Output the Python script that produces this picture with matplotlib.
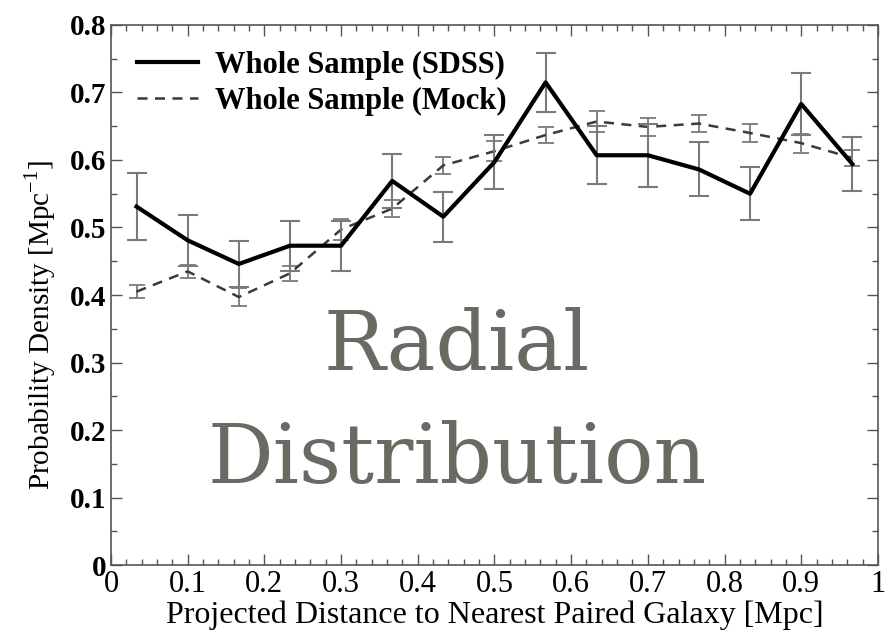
import matplotlib
matplotlib.use("Agg")
import matplotlib.pyplot as plt
from matplotlib.ticker import MultipleLocator
import numpy as np

x = [0.0333, 0.1, 0.1667, 0.2333, 0.3, 0.3667, 0.4333, 0.5, 0.5667, 0.6333, 0.7, 0.7667, 0.8333, 0.9, 0.9667]
sdss = [0.531, 0.481, 0.446, 0.473, 0.473, 0.569, 0.516, 0.597, 0.715, 0.607, 0.607, 0.586, 0.550, 0.683, 0.594]
sdss_err = [0.050, 0.038, 0.034, 0.037, 0.037, 0.040, 0.037, 0.040, 0.044, 0.043, 0.047, 0.040, 0.039, 0.046, 0.040]
mock = [0.405, 0.435, 0.397, 0.432, 0.497, 0.528, 0.592, 0.613, 0.637, 0.657, 0.649, 0.654, 0.640, 0.625, 0.603]
mock_err = [0.010, 0.010, 0.013, 0.011, 0.015, 0.013, 0.013, 0.015, 0.012, 0.015, 0.013, 0.012, 0.013, 0.014, 0.012]

serif = ["Liberation Serif", "DejaVu Serif"]
plt.rcParams["font.family"] = serif

fig = plt.figure(figsize=(8.85, 6.34), dpi=100)
ax = fig.add_axes([0.1254, 0.1088, 0.8666, 0.8518])

ax.errorbar(x, sdss, yerr=sdss_err, color="black", lw=3, ecolor="#7a7a7a",
            elinewidth=1.5, capsize=7, capthick=1.5, label="Whole Sample (SDSS)", zorder=3)
ax.errorbar(x, mock, yerr=mock_err, color="#3a3a3a", lw=1.8, ls=(0, (4, 3)), ecolor="#7a7a7a",
            elinewidth=1.3, capsize=6, capthick=1.3, label="Whole Sample (Mock)", zorder=2)

ax.set_xlim(0, 1)
ax.set_ylim(0, 0.8)
ax.xaxis.set_major_locator(MultipleLocator(0.1))
ax.xaxis.set_minor_locator(MultipleLocator(0.02))
ax.yaxis.set_major_locator(MultipleLocator(0.1))
ax.yaxis.set_minor_locator(MultipleLocator(0.05))
ax.tick_params(which="both", direction="in", top=True, right=True, colors="#555555", labelcolor="black")
ax.tick_params(which="major", length=8, width=1)
ax.tick_params(which="minor", length=4, width=1)
ax.set_xticks(np.arange(0, 1.01, 0.1))
ax.set_xticklabels(["0", "0.1", "0.2", "0.3", "0.4", "0.5", "0.6", "0.7", "0.8", "0.9", "1"], fontsize=22)
ax.set_yticks(np.arange(0, 0.81, 0.1))
ax.set_yticklabels(["0", "0.1", "0.2", "0.3", "0.4", "0.5", "0.6", "0.7", "0.8"], fontsize=21, fontweight="bold")
for s in ax.spines.values():
    s.set_color("#555555")
    s.set_linewidth(1.2)

ax.set_xlabel("Projected Distance to Nearest Paired Galaxy [Mpc]", fontsize=23, labelpad=1)
ax.set_ylabel("Probability Density [Mpc$^{\\mathregular{-1}}$]", fontsize=21)
ax.yaxis.set_label_coords(-0.069, 0.445)

h, l = ax.get_legend_handles_labels()
h = [hh[0] for hh in h]
leg = ax.legend(h, l, loc="upper left", frameon=False,
                prop={"family": serif, "weight": "bold", "size": 22},
                handlelength=2.0, borderaxespad=0.45, labelspacing=0.22, handletextpad=0.55)

fig.text(0.516, 0.4164, "Radial", fontsize=59, color="#6b6a62", ha="center", va="baseline", family=["DejaVu Serif"])
fig.text(0.516, 0.2382, "Distribution", fontsize=59, color="#6b6a62", ha="center", va="baseline", family=["DejaVu Serif"])

fig.savefig("out.png", dpi=100)
